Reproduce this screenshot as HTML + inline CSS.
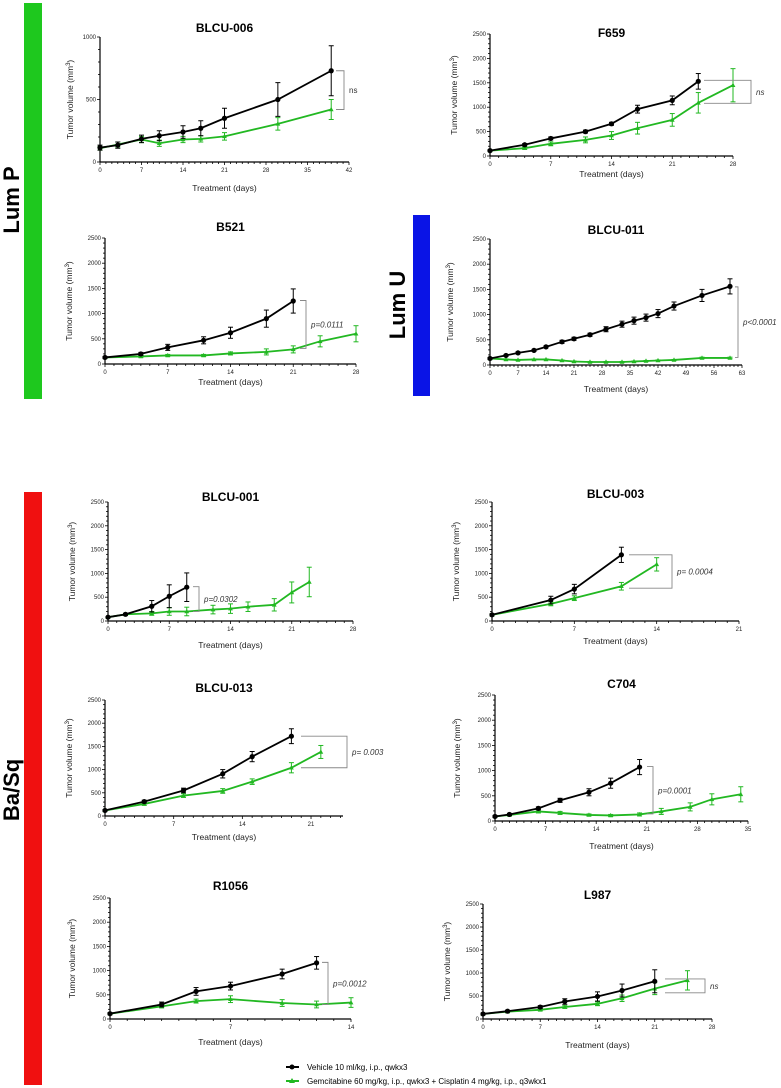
<!DOCTYPE html>
<html><head><meta charset="utf-8"><style>
body{margin:0;background:#fff;}
svg{display:block;font-family:"Liberation Sans",Arial,sans-serif;}
</style></head><body>
<svg id="fig" width="781" height="1088" viewBox="0 0 781 1088">
<rect x="24" y="3" width="18" height="396" fill="#1ec81e"/>
<rect x="413" y="215" width="17" height="181" fill="#0a14e6"/>
<rect x="24" y="492" width="18" height="593" fill="#f01010"/>
<text transform="translate(19,200) rotate(-90)" text-anchor="middle" font-size="22" font-weight="bold">Lum P</text>
<text transform="translate(405,305) rotate(-90)" text-anchor="middle" font-size="22" font-weight="bold">Lum U</text>
<text transform="translate(19,790) rotate(-90)" text-anchor="middle" font-size="22" font-weight="bold">Ba/Sq</text>
<g>
<line x1="286" y1="1067" x2="299" y2="1067" stroke="#000" stroke-width="2"/><circle cx="292" cy="1067" r="2.5" fill="#000"/>
<text x="307" y="1070" font-size="8">Vehicle 10 ml/kg,  i.p., qwkx3</text>
<line x1="286" y1="1081" x2="299" y2="1081" stroke="#22b822" stroke-width="2"/><path d="M292,1078 L295,1083 L289,1083Z" fill="#22b822"/>
<text x="307" y="1084" font-size="8">Gemcitabine 60 mg/kg,  i.p., qwkx3 + Cisplatin 4 mg/kg, i.p., q3wkx1</text>
</g>
</svg>
<script>
// ---- data ----
const b006_blackDays=[0,3,7,10,14,17,21,30,39];
const b006_blackVals=[115,135,185,210,240,270,350,500,730];
const b006_blackErr=[20,25,30,40,50,60,80,135,200];
const b006_greenDays=[0,3,7,10,14,17,21,30,39];
const b006_greenVals=[110,140,180,150,180,185,205,305,420];
const b006_greenErr=[15,20,25,25,25,25,30,50,80];

const f659_blackDays=[0,4,7,11,14,17,21,24];
const f659_blackVals=[110,230,360,500,660,960,1140,1530];
const f659_blackErr=[15,25,30,30,30,80,90,160];
const f659_greenDays=[0,4,7,11,14,17,21,24,28];
const f659_greenVals=[110,160,250,330,420,570,740,1090,1450];
const f659_greenErr=[15,25,40,60,80,120,130,210,340];

const b521_blackDays=[0,4,7,11,14,18,21];
const b521_blackVals=[130,200,330,470,620,900,1250];
const b521_blackErr=[20,30,60,70,110,170,240];
const b521_greenDays=[0,4,7,11,14,18,21,24,28];
const b521_greenVals=[130,150,170,170,210,240,290,450,600];
const b521_greenErr=[15,20,20,20,30,60,70,110,160];

const b011_blackDays=[0,4,7,11,14,18,21,25,29,33,36,39,42,46,53,60];
const b011_blackVals=[130,190,240,290,360,460,520,600,710,810,880,940,1020,1170,1380,1560];
const b011_blackErr=[20,20,20,20,20,30,30,30,50,60,70,70,80,80,120,150];
const b011_greenDays=[0,4,7,11,14,18,21,25,29,33,36,39,42,46,53,60];
const b011_greenVals=[130,110,100,110,110,90,70,60,60,60,70,80,90,100,140,140];
const b011_greenErr=[15,10,10,10,10,10,10,10,10,10,10,10,10,10,15,15];

const b001_blackDays=[0,2,5,7,9];
const b001_blackVals=[80,140,310,520,710];
const b001_blackErr=[10,20,120,240,300];
const b001_greenDays=[0,2,5,7,9,12,14,16,19,21,23];
const b001_greenVals=[80,140,160,200,200,240,260,300,340,600,820];
const b001_greenErr=[10,20,40,80,90,90,100,100,130,220,310];

const b003_blackDays=[0,5,7,11];
const b003_blackVals=[130,440,670,1390];
const b003_blackErr=[20,80,100,160];
const b003_greenDays=[0,5,7,11,14];
const b003_greenVals=[130,360,480,730,1190];
const b003_greenErr=[20,40,50,80,140];

const b013_blackDays=[0,4,8,12,15,19];
const b013_blackVals=[120,310,550,910,1280,1720];
const b013_blackErr=[20,30,50,90,110,160];
const b013_greenDays=[0,4,8,12,15,19,22];
const b013_greenVals=[120,260,440,540,740,1040,1380];
const b013_greenErr=[20,30,40,50,60,110,140];

const c704_blackDays=[0,2,6,9,13,16,20];
const c704_blackVals=[90,130,250,410,570,750,1070];
const c704_blackErr=[20,20,30,40,70,100,150];
const c704_greenDays=[0,2,6,9,13,16,20,23,27,30,34];
const c704_greenVals=[90,120,190,160,120,110,130,190,280,430,530];
const c704_greenErr=[20,20,30,30,20,20,30,60,80,110,150];

const r1056_blackDays=[0,3,5,7,10,12];
const r1056_blackVals=[110,300,570,680,930,1160];
const r1056_blackErr=[20,50,80,80,100,130];
const r1056_greenDays=[0,3,5,7,10,12,14];
const r1056_greenVals=[110,260,370,410,330,300,340];
const r1056_greenErr=[20,30,40,70,70,70,100];

const l987_blackDays=[0,3,7,10,14,17,21];
const l987_blackVals=[110,170,260,380,490,620,820];
const l987_blackErr=[20,20,30,60,100,140,250];
const l987_greenDays=[0,3,7,10,14,17,21,25];
const l987_greenVals=[110,160,200,260,330,450,660,840];
const l987_greenErr=[20,20,20,30,40,70,130,210];

const NS='http://www.w3.org/2000/svg';
const svg=document.getElementById('fig');
function mk(tag,attrs,parent,text){const e=document.createElementNS(NS,tag);for(const k in attrs)e.setAttribute(k,attrs[k]);if(text!==undefined)e.textContent=text;parent.appendChild(e);return e;}

function panel(c){
  const g=mk('g',{},svg);
  
  
  const xs=d=>c.x0+(c.x1-c.x0)*d/c.xmax;
  const ys=v=>c.yb+(c.yt-c.yb)*v/c.ymax;
  const t=mk('text',{x:(c.x0+c.x1)/2,y:c.titleY+4,'text-anchor':'middle','font-size':12,'font-weight':'bold'},g,c.title);
  
  
  // axes
  mk('line',{x1:c.x0,y1:c.yt,x2:c.x0,y2:c.yb,stroke:'#000','stroke-width':1.2},g);
  mk('line',{x1:c.x0,y1:c.yb,x2:c.x1,y2:c.yb,stroke:'#000','stroke-width':1.2},g);
  for(let v=0;v<=c.ymax+1e-6;v+=100){
    const major=Math.abs(v%c.ystep)<1e-6;
    mk('line',{x1:c.x0-(major?3:2),y1:ys(v),x2:c.x0,y2:ys(v),stroke:'#000','stroke-width':0.8},g);
    if(major){const tl=mk('text',{x:c.x0-4,y:ys(v)+2,'text-anchor':'end','font-size':6,fill:'#222'},g,String(v));
      
      }
  }
  for(let d=0;d<=c.xmax;d++){
    const major=d%c.xstep===0;
    mk('line',{x1:xs(d),y1:c.yb,x2:xs(d),y2:c.yb+(major?3:2),stroke:'#000','stroke-width':0.8},g);
    if(major){const tl=mk('text',{x:xs(d),y:c.yb+10,'text-anchor':'middle','font-size':6,fill:'#222'},g,String(d));
      
      }
  }
  const yl=mk('text',{transform:`translate(${c.x0-c.ytOff},${(c.yt+c.yb)/2}) rotate(-90)`,'text-anchor':'middle','font-size':8.5,fill:'#222'},g);
  
  
  mk('tspan',{},yl,'Tumor volume (mm');mk('tspan',{dy:-3,'font-size':6},yl,'3');mk('tspan',{dy:3},yl,')');
  const xl=mk('text',{x:(c.x0+c.x1)/2,y:c.xlabY+3,'text-anchor':'middle','font-size':8.5,fill:'#222'},g,'Treatment (days)');
  
  
  // series
  [['green','#22b822',c.gD,c.gV,c.gE],['black','#000',c.bD,c.bV,c.bE]].forEach(([nm,col,D,V,E])=>{
    const sg=mk('g',{},g);
    
    
    D.forEach((d,i)=>{const x=xs(d),a=ys(V[i]+E[i]),b=ys(Math.max(0,V[i]-E[i]));
      mk('line',{x1:x,y1:a,x2:x,y2:b,stroke:col,'stroke-width':1},sg);
      mk('line',{x1:x-2.5,y1:a,x2:x+2.5,y2:a,stroke:col,'stroke-width':1},sg);
      mk('line',{x1:x-2.5,y1:b,x2:x+2.5,y2:b,stroke:col,'stroke-width':1},sg);});
    mk('polyline',{points:D.map((d,i)=>xs(d)+','+ys(V[i])).join(' '),fill:'none',stroke:col,'stroke-width':1.8},sg);
    D.forEach((d,i)=>{const x=xs(d),y=ys(V[i]);let m;
      if(nm==='black')m=mk('circle',{cx:x,cy:y,r:2.6,fill:col},sg);
      else m=mk('path',{d:`M${x},${y-2.6}L${x+2.4},${y+1.8}L${x-2.4},${y+1.8}Z`,fill:col},sg);
      
      });
  });
  // bracket
  const B=c.br,bt=ys(B.v1),bb=ys(B.v2);
  const bg=mk('g',{},g);
  
  
  mk('polyline',{points:`${B.x-B.arm},${bt} ${B.x},${bt} ${B.x},${bb} ${B.x-B.arm},${bb}`,fill:'none',stroke:'#888','stroke-width':0.9},bg);
  const pt=mk('text',{x:B.x+5,y:(bt+bb)/2+3,'font-size':8,'font-style':B.it?'italic':'normal',fill:'#333'},bg,B.text);
  
  
}
panel({id:'blcu-006',title:'BLCU-006',x0:100,x1:349,xmax:42,xstep:7,yt:37,yb:162,ymax:1000,ystep:500,titleY:28,xlabY:188,ytOff:27,
 bD:b006_blackDays,bV:b006_blackVals,bE:b006_blackErr,gD:b006_greenDays,gV:b006_greenVals,gE:b006_greenErr,br:{x:344,v1:730,v2:420,arm:8,text:'ns',it:false}});
panel({id:'f659',title:'F659',x0:490,x1:733,xmax:28,xstep:7,yt:34,yb:156,ymax:2500,ystep:500,titleY:33,xlabY:174,ytOff:33,
 bD:f659_blackDays,bV:f659_blackVals,bE:f659_blackErr,gD:f659_greenDays,gV:f659_greenVals,gE:f659_greenErr,br:{x:751,v1:1550,v2:1080,arm:47,text:'ns',it:true}});
panel({id:'b521',title:'B521',x0:105,x1:356,xmax:28,xstep:7,yt:238,yb:364,ymax:2500,ystep:500,titleY:227,xlabY:382,ytOff:33,
 bD:b521_blackDays,bV:b521_blackVals,bE:b521_blackErr,gD:b521_greenDays,gV:b521_greenVals,gE:b521_greenErr,br:{x:306,v1:1260,v2:310,arm:6,text:'p=0.0111',it:true}});
panel({id:'blcu-011',title:'BLCU-011',x0:490,x1:742,xmax:63,xstep:7,yt:239,yb:365,ymax:2500,ystep:500,titleY:230,xlabY:389,ytOff:37,
 bD:b011_blackDays,bV:b011_blackVals,bE:b011_blackErr,gD:b011_greenDays,gV:b011_greenVals,gE:b011_greenErr,br:{x:738,v1:1550,v2:150,arm:3,text:'p<0.0001',it:true}});
panel({id:'blcu-001',title:'BLCU-001',x0:108,x1:353,xmax:28,xstep:7,yt:502,yb:621,ymax:2500,ystep:500,titleY:497,xlabY:645,ytOff:33,
 bD:b001_blackDays,bV:b001_blackVals,bE:b001_blackErr,gD:b001_greenDays,gV:b001_greenVals,gE:b001_greenErr,br:{x:199,v1:720,v2:200,arm:6,text:'p=0.0302',it:true}});
panel({id:'blcu-003',title:'BLCU-003',x0:492,x1:739,xmax:21,xstep:7,yt:502,yb:621,ymax:2500,ystep:500,titleY:494,xlabY:641,ytOff:33,
 bD:b003_blackDays,bV:b003_blackVals,bE:b003_blackErr,gD:b003_greenDays,gV:b003_greenVals,gE:b003_greenErr,br:{x:672,v1:1390,v2:690,arm:43,text:'p= 0.0004',it:true}});
panel({id:'blcu-013',title:'BLCU-013',x0:105,x1:343,xmax:24.26,xstep:7,yt:700,yb:816,ymax:2500,ystep:500,titleY:688,xlabY:837,ytOff:33,
 bD:b013_blackDays,bV:b013_blackVals,bE:b013_blackErr,gD:b013_greenDays,gV:b013_greenVals,gE:b013_greenErr,br:{x:347,v1:1720,v2:1040,arm:46,text:'p= 0.003',it:true}});
panel({id:'c704',title:'C704',x0:495,x1:748,xmax:35,xstep:7,yt:695,yb:821,ymax:2500,ystep:500,titleY:684,xlabY:846,ytOff:35,
 bD:c704_blackDays,bV:c704_blackVals,bE:c704_blackErr,gD:c704_greenDays,gV:c704_greenVals,gE:c704_greenErr,br:{x:653,v1:1080,v2:140,arm:6,text:'p=0.0001',it:true}});
panel({id:'r1056',title:'R1056',x0:110,x1:351,xmax:14,xstep:7,yt:898,yb:1019,ymax:2500,ystep:500,titleY:886,xlabY:1042,ytOff:35,
 bD:r1056_blackDays,bV:r1056_blackVals,bE:r1056_blackErr,gD:r1056_greenDays,gV:r1056_greenVals,gE:r1056_greenErr,br:{x:328,v1:1170,v2:300,arm:6,text:'p=0.0012',it:true}});
panel({id:'l987',title:'L987',x0:483,x1:712,xmax:28,xstep:7,yt:904,yb:1019,ymax:2500,ystep:500,titleY:895,xlabY:1045,ytOff:33,
 bD:l987_blackDays,bV:l987_blackVals,bE:l987_blackErr,gD:l987_greenDays,gV:l987_greenVals,gE:l987_greenErr,br:{x:705,v1:870,v2:570,arm:40,text:'ns',it:true}});
</script>
</body></html>
